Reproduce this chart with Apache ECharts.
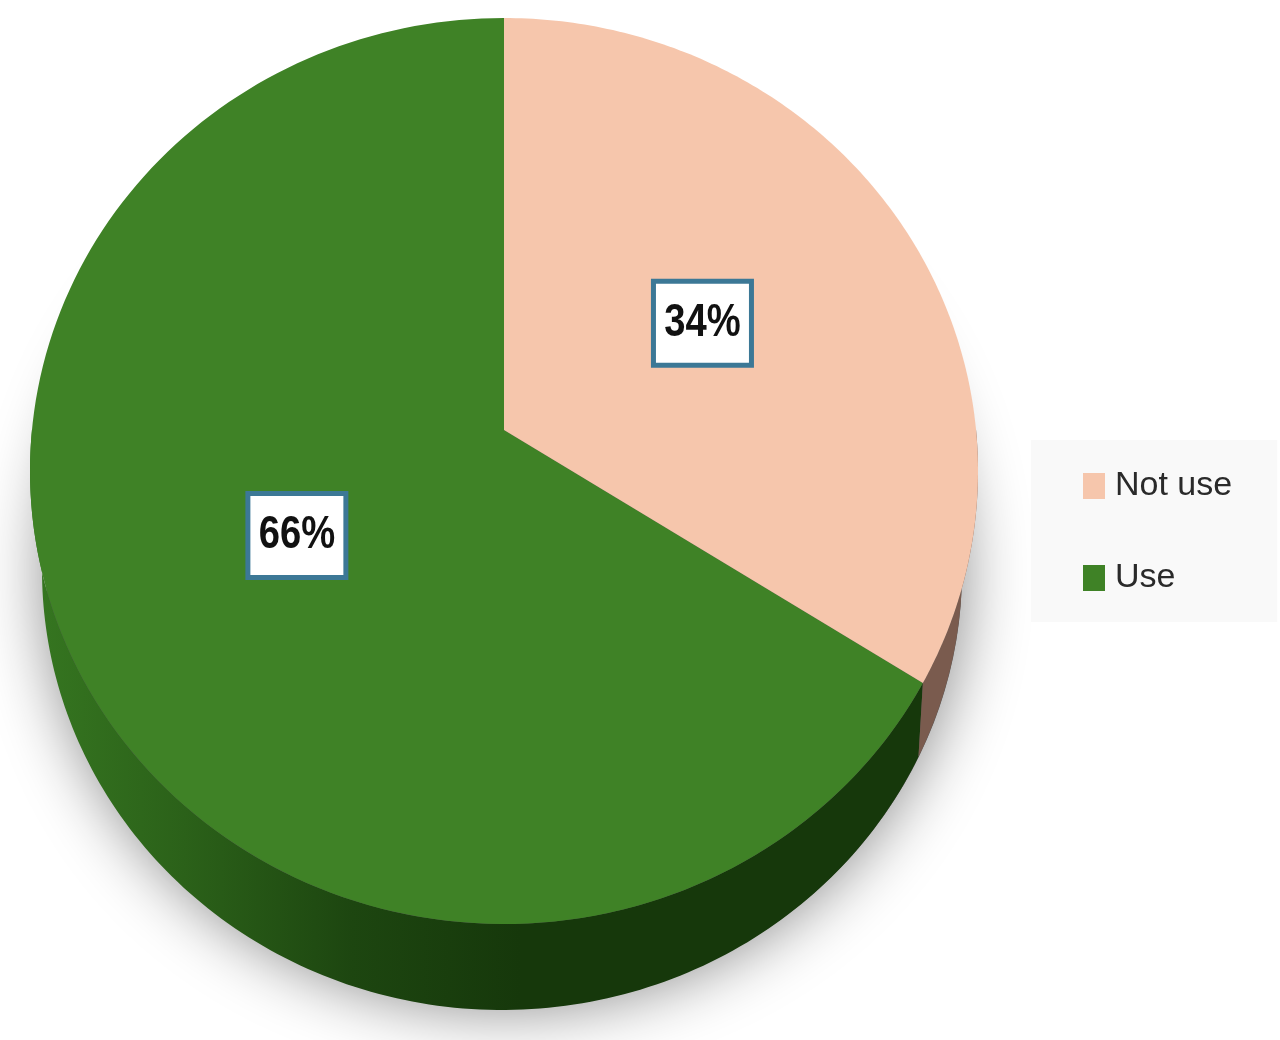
<!DOCTYPE html>
<html>
<head>
<meta charset="utf-8">
<style>html,body{margin:0;padding:0;background:#fff}#c{width:1280px;height:1040px}</style>
<script src="https://cdn.jsdelivr.net/npm/echarts@6/dist/echarts.min.js"></script>
</head>
<body>
<div id="c"></div>
<script>
const categories = ['Not use', 'Use'];
const values = [34, 66];
const labels = ['34%', '66%'];
const topColors = ['#f6c6ac', '#3f8226'];

const total = values.reduce((a, b) => a + b, 0);
const FONT = '"Liberation Sans",sans-serif';

// Perspective view of the disc: a projective map of the unit circle onto an ellipse.
const topFace = { cx: 504, cy: 471, rx: 474, ry: 453, c: -0.0905 };
const bottomFace = { cx: 502, cy: 570, rx: 460, ry: 440, c: -0.144 };

function project(face, ang, r) {
  const x = r * Math.sin(ang), y = -r * Math.cos(ang);
  const d = 1 + face.c * y;
  return [
    face.cx + face.rx * x * Math.sqrt(1 - face.c * face.c) / d,
    face.cy + face.ry * (y + face.c) / d
  ];
}
function arc(face, a0, a1) {
  const pts = [], n = 160;
  for (let i = 0; i <= n; i++) pts.push(project(face, a0 + (a1 - a0) * i / n, 1));
  return pts;
}
function sliceAngles(idx) {
  let sum = 0;
  for (let i = 0; i < idx; i++) sum += values[i];
  return [sum / total * 2 * Math.PI, (sum + values[idx]) / total * 2 * Math.PI];
}
const wallFills = [
  '#7a5b4e',
  { type: 'linear', x: 40, y: 0, x2: 520, y2: 0, global: true, colorStops: [
    { offset: 0, color: '#357520' }, { offset: 0.3, color: '#2b6119' },
    { offset: 0.65, color: '#1d4610' }, { offset: 1, color: '#16380b' } ] }
];

function renderSlice(idx) {
  return function (params, api) {
    const v = api.value(0);
    const [a0] = sliceAngles(idx);
    const a1 = a0 + v / total * 2 * Math.PI;
    const children = [];
    if (idx === 1) {
      children.push({
        type: 'polygon',
        shape: { points: arc({ cx: 504, cy: 572, rx: 458, ry: 436, c: 0 }, 0, 2 * Math.PI) },
        style: { fill: '#555', shadowBlur: 66, shadowColor: 'rgba(0,0,0,0.48)' }
      });
    }
    // the side wall only shows on the near half of the disc
    const wa0 = Math.max(a0, Math.PI / 2), wa1 = Math.min(a1, 1.5 * Math.PI);
    if (wa1 > wa0) {
      children.push({
        type: 'polygon',
        shape: { points: arc(topFace, wa0, wa1).concat(arc(bottomFace, wa0, wa1).reverse()) },
        style: { fill: wallFills[idx] }
      });
    }
    children.push({
      type: 'polygon',
      shape: { points: [project(topFace, 0, 0)].concat(arc(topFace, a0, a1)) },
      style: { fill: topColors[idx] }
    });
    const p = project(topFace, (a0 + a1) / 2, 0.49);
    const cy = p[1] - 3;
    children.push({
      type: 'rect',
      shape: { x: p[0] - 49, y: cy - 42, width: 98, height: 84 },
      style: { fill: '#fff', stroke: '#3c7896', lineWidth: 5 }
    });
    children.push({
      type: 'text',
      x: p[0],
      y: cy,
      scaleX: 0.83,
      style: { x: 0, y: 0, text: labels[idx], font: 'bold 46px ' + FONT, fill: '#111', align: 'center', verticalAlign: 'middle' }
    });
    return { type: 'group', children };
  };
}

const chart = echarts.init(document.getElementById('c'), null, { renderer: 'canvas' });
// "Use" is painted first so that its drop shadow sits behind everything else.
const seriesList = categories.map((name, i) => ({
  type: 'custom',
  name,
  coordinateSystem: 'none',
  silent: true,
  itemStyle: { color: topColors[i] },
  data: [[values[i]]],
  z: i === 1 ? 1 : 2,
  renderItem: renderSlice(i)
}));
chart.setOption({
  animation: false,
  backgroundColor: '#fff',
  legend: {
    data: categories,
    orient: 'vertical',
    left: 1031,
    top: 440,
    padding: [29, 45, 27, 52],
    backgroundColor: '#f9f9f9',
    icon: 'rect',
    itemWidth: 22,
    itemHeight: 26,
    itemGap: 58,
    selectedMode: false,
    textStyle: { fontFamily: FONT, fontSize: 34, color: '#2a2a2a', padding: [0, 0, 0, 5] }
  },
  series: seriesList
});
</script>
</body>
</html>
